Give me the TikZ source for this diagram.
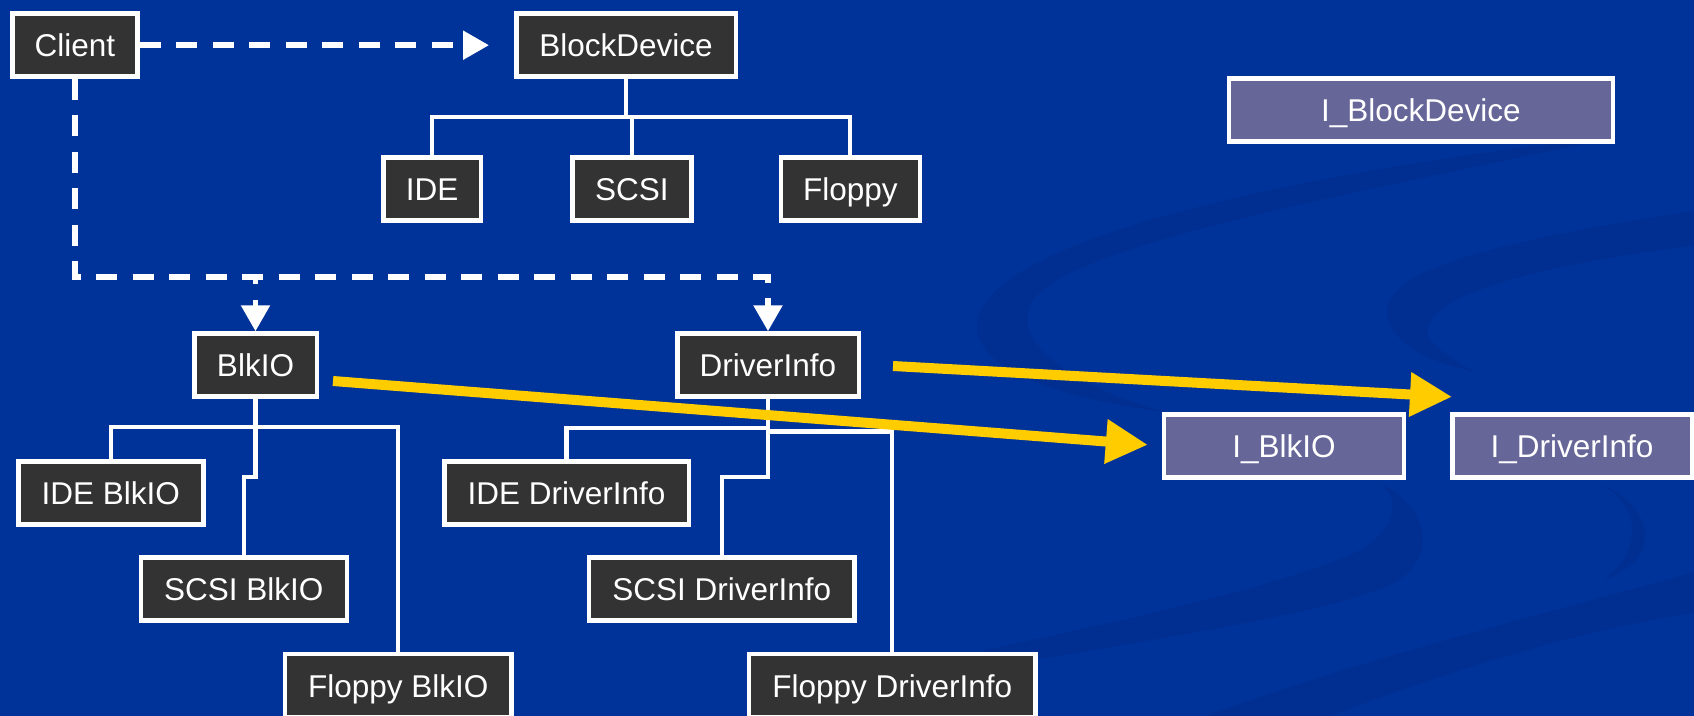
\documentclass[tikz,border=0pt]{standalone}
\usepackage{fontspec}
\setmainfont{Liberation Sans}
\usetikzlibrary{arrows.meta,calc}
\definecolor{slidebg}{RGB}{0,51,153}
\definecolor{swoosh}{RGB}{0,47,145}
\definecolor{classfill}{RGB}{51,51,51}
\definecolor{ifacefill}{RGB}{102,102,153}
\definecolor{linkyellow}{RGB}{255,204,0}
\begin{document}
\begin{tikzpicture}[x=1pt,y=-1pt,
  box/.style={rectangle, draw=white, line width=4.5pt, text=white,
    minimum height=63pt, inner sep=0pt, text height=22.6pt, text depth=0pt,
    font=\fontsize{31.5}{36}\selectfont},
  cls/.style={box, fill=classfill},
  iface/.style={box, fill=ifacefill},
  tree/.style={draw=white, line width=4.3pt},
  uses/.style={draw=white, line width=5.5pt, dash pattern=on 21pt off 15.5pt,
    -{Triangle[length=26pt,width=28pt]}},
  impl/.style={draw=linkyellow, line width=10pt,
    -{Triangle[length=42pt,width=42pt]}}]

% page and background
\useasboundingbox (0,0) rectangle (1694,715);
\fill[slidebg] (-2,-2) rectangle (1696,717);

% background ribbons, kept inside the page
\begin{scope}
\clip (0,0) rectangle (1694,715);
\fill[swoosh] (1625,135) .. controls (1350,165) and (1000,230) .. (978,318)
  .. controls (965,370) and (1070,400) .. (1165,412)
  .. controls (1070,385) and (1015,345) .. (1030,305)
  .. controls (1060,245) and (1350,195) .. (1625,135) -- cycle;
\fill[swoosh] (1700,210) .. controls (1500,240) and (1380,270) .. (1387,315)
  .. controls (1392,345) and (1430,362) .. (1475,372)
  .. controls (1440,352) and (1420,338) .. (1430,322)
  .. controls (1450,288) and (1560,262) .. (1700,245) -- cycle;
\fill[swoosh] (1377,482) .. controls (1430,505) and (1440,560) .. (1390,585)
  .. controls (1320,615) and (1150,640) .. (975,670) -- (985,650)
  .. controls (1150,615) and (1300,580) .. (1360,550)
  .. controls (1400,525) and (1400,495) .. (1377,482) -- cycle;
\fill[swoosh] (1598,483) .. controls (1655,505) and (1665,560) .. (1603,580)
  .. controls (1640,555) and (1645,505) .. (1598,483) -- cycle;
\fill[swoosh] (1700,570) .. controls (1600,600) and (1350,660) .. (1190,722)
  -- (1315,722) .. controls (1450,670) and (1580,630) .. (1700,612) -- cycle;
\end{scope}

% classes
\node[cls, minimum width=125.1pt] (client)   at (75,45.2)    {Client};
\node[cls, minimum width=219.5pt] (blockdev) at (626,45.2)   {BlockDevice};
\node[cls, minimum width=97.5pt]  (ide)      at (432,189.2)  {IDE};
\node[cls, minimum width=119.1pt] (scsi)     at (631.8,189.2){SCSI};
\node[cls, minimum width=138.9pt] (floppy)   at (850.3,189.2){Floppy};
\node[cls, minimum width=122.5pt] (blkio)    at (255.5,365)  {BlkIO};
\node[cls, minimum width=181.5pt] (drvinfo)  at (768,365)    {DriverInfo};
\node[cls, minimum width=185.1pt] (ideblk)   at (110.8,493)  {IDE BlkIO};
\node[cls, minimum width=205.9pt] (scsiblk)  at (243.8,589)  {SCSI BlkIO};
\node[cls, minimum width=226.5pt] (flopblk)  at (398.2,685.7){Floppy BlkIO};
\node[cls, minimum width=244.5pt] (idedrv)   at (566.5,493)  {IDE DriverInfo};
\node[cls, minimum width=265.8pt] (scsidrv)  at (721.8,589)  {SCSI DriverInfo};
\node[cls, minimum width=286.2pt] (flopdrv)  at (892.2,685.7){Floppy DriverInfo};

% interfaces
\node[iface, minimum width=383.9pt] (ibd)      at (1420.8,109.9) {I\_BlockDevice};
\node[iface, minimum width=239.7pt] (iblkio)   at (1283.9,445.8) {I\_BlkIO};
\node[iface, minimum width=239.5pt] (idrvinfo) at (1572,445.8)   {I\_DriverInfo};

% inheritance trees
\draw[tree] (blockdev.south) -- ++(0,38.3) -| (ide.north);
\draw[tree] (blockdev.south) -- ++(0,38.3) -| (scsi.north);
\draw[tree] (blockdev.south) -- ++(0,38.3) -| (floppy.north);
\draw[tree] (blkio.south) -- ++(0,28) -| (ideblk.north);
\draw[tree] (blkio.south) -- ++(0,78) -| (scsiblk.north);
\draw[tree] (blkio.south) -- ++(0,28) -| (flopblk.north);
\draw[tree] (drvinfo.south) -- ++(0,29) -| (idedrv.north);
\draw[tree] (drvinfo.south) -- ++(0,78) -| (scsidrv.north);
\draw[tree] (drvinfo.south) -- ++(0,32.7) -| (flopdrv.north);

% client dependencies
\draw[uses, shorten >=25pt] (client.east) -- (blockdev.west);
\draw[uses] (client.south) -- ++(0,198) -| (blkio.north);
\draw[uses] (client.south) -- ++(0,198) -| (drvinfo.north);

% realisations
\draw[impl] ($(blkio.east)+(14,16)$) -- ($(iblkio.west)+(-14,-1)$);
\draw[impl] ($(drvinfo.east)+(32,1)$) -- ($(idrvinfo.west)+(2,-49)$);
\end{tikzpicture}
\end{document}
